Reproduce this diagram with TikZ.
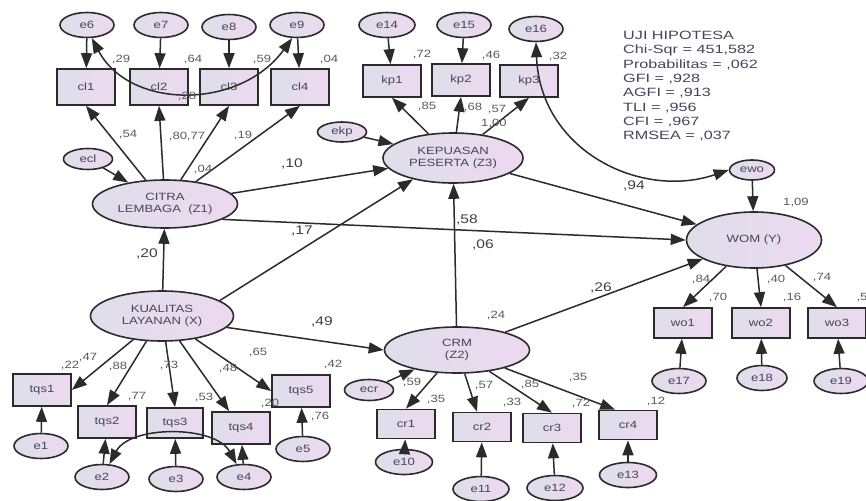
\documentclass[tikz,border=0pt]{standalone}
\usepackage{fontspec}
\setmainfont[FakeStretch=1.25]{Liberation Sans}
\newfontfamily\statfont[FakeStretch=1.35]{Liberation Sans}
\usetikzlibrary{shapes.geometric,arrows.meta}
\definecolor{edgecol}{HTML}{2B2B2B}
\definecolor{shadeL}{HTML}{DEDEEA}
\definecolor{shadeR}{HTML}{EDD9F0}
\definecolor{nodetext}{HTML}{45455A}
\definecolor{lbltext}{HTML}{5A5A5A}
\tikzset{
    every node/.style={font=\fontsize{10.5}{12}\selectfont, text=nodetext},
    latent/.style={draw=edgecol, ellipse, line width=1.6pt, left color=shadeL, right color=shadeR, inner sep=0pt, align=center, minimum width=143pt, minimum height=50pt},
    obs/.style={draw=edgecol, rectangle, line width=1.6pt, left color=shadeL, right color=shadeR, minimum width=58pt, minimum height=32pt},
    err/.style={draw=edgecol, ellipse, line width=1.6pt, left color=shadeL, right color=shadeR, inner sep=0pt, minimum width=54pt, minimum height=25pt},
    dist/.style={err, minimum width=49pt, minimum height=21pt},
    lbl/.style={text=lbltext, inner sep=0pt},
    biglbl/.style={lbl, text=black!75, font=\fontsize{12.5}{14}\selectfont},
    arr/.style={-{Triangle[length=15pt,width=11pt]}, line width=1.5pt, draw=edgecol},
    cov/.style={{Triangle[length=15pt,width=11pt]}-{Triangle[length=15pt,width=11pt]}, line width=1.5pt, draw=edgecol}
}

\begin{document}
\begin{tikzpicture}[x=1pt,y=-1pt]
        \useasboundingbox (0,0) rectangle (866,500);

        % latent variables
        \node[latent, minimum width=145pt, minimum height=48pt] (citra) at (165,204) {CITRA\\LEMBAGA~~(Z1)};
        \node[latent] (kualitas) at (162,316) {KUALITAS\\LAYANAN (X)};
        \node[latent, minimum width=140pt] (kepuasan) at (453,158) {KEPUASAN\\PESERTA (Z3)};
        \node[latent, minimum width=145pt, minimum height=46pt] (crm) at (457,350) {CRM\\(Z2)};
        \node[latent, minimum width=135pt, minimum height=56pt] (wom) at (754,240) {WOM (Y)};

        % indicators
        \node[obs, minimum height=36pt] (cl1) at (86,87) {cl1};
        \node[obs, minimum height=36pt] (cl2) at (159,87) {cl2};
        \node[obs, minimum height=36pt] (cl3) at (229,87) {cl3};
        \node[obs, minimum height=36pt] (cl4) at (300,87) {cl4};
        \node[obs] (kp1) at (392,81) {kp1};
        \node[obs] (kp2) at (461,80) {kp2};
        \node[obs] (kp3) at (529,81) {kp3};
        \node[obs, minimum height=30pt] (wo1) at (683,323) {wo1};
        \node[obs, minimum height=30pt] (wo2) at (761,323) {wo2};
        \node[obs, minimum height=30pt] (wo3) at (837,323) {wo3};
        \node[obs] (tqs1) at (42,390) {tqs1};
        \node[obs] (tqs2) at (107,422) {tqs2};
        \node[obs, minimum width=56pt, minimum height=30pt] (tqs3) at (175,423) {tqs3};
        \node[obs] (tqs4) at (241,428) {tqs4};
        \node[obs] (tqs5) at (301,391) {tqs5};
        \node[obs, minimum height=29pt] (cr1) at (406,424) {cr1};
        \node[obs, minimum height=29pt] (cr2) at (482,427) {cr2};
        \node[obs, minimum height=29pt] (cr3) at (552,428) {cr3};
        \node[obs, minimum height=29pt] (cr4) at (628,425) {cr4};

        % error terms
        \node[err] (e6) at (87,25) {e6};
        \node[err] (e7) at (161,25) {e7};
        \node[err] (e8) at (229,27) {e8};
        \node[err] (e9) at (297,25) {e9};
        \node[err, minimum width=56pt] (e14) at (387,25) {e14};
        \node[err] (e15) at (464,25) {e15};
        \node[err] (e16) at (536,29) {e16};
        \node[err] (e17) at (679,381) {e17};
        \node[err, minimum width=50pt] (e18) at (762,378) {e18};
        \node[err] (e19) at (841,381) {e19};
        \node[err] (e1) at (41,446) {e1};
        \node[err] (e2) at (102,477) {e2};
        \node[err] (e3) at (176,479) {e3};
        \node[err] (e4) at (244,477) {e4};
        \node[err] (e5) at (303,449) {e5};
        \node[err, minimum width=57pt] (e10) at (404,462) {e10};
        \node[err, minimum width=56pt] (e11) at (481,489) {e11};
        \node[err, minimum width=56pt] (e12) at (555,488) {e12};
        \node[err, minimum width=57pt] (e13) at (628,475) {e13};
        \node[dist] (ecl) at (88,159) {ecl};
        \node[dist, minimum height=20pt] (ekp) at (342,132) {ekp};
        \node[dist] (ecr) at (369,390) {ecr};
        \node[dist, minimum width=45pt, minimum height=20pt] (ewo) at (752,170) {ewo};

        % fit summary
        \node[anchor=north west, align=left, inner sep=0pt, text=nodetext, font=\statfont\fontsize{12}{14.3}\selectfont] (uji) at (623,31)
            {UJI HIPOTESA\\Chi-Sqr = 451,582\\Probabilitas = ,062\\GFI = ,928\\AGFI = ,913\\TLI = ,956\\CFI = ,967\\RMSEA = ,037};

        % measurement paths
        \draw[arr] (citra) -- (cl1.south);
        \draw[arr] (citra) -- (cl2.south);
        \draw[arr] (citra) -- (cl3.south);
        \draw[arr] (citra) -- (cl4.south);
        \draw[arr] (kepuasan) -- (kp1.south);
        \draw[arr] (kepuasan) -- (kp2.south);
        \draw[arr] (kepuasan) -- (kp3.south);
        \draw[arr] (wom) -- (wo1.north);
        \draw[arr] (wom) -- (wo2.north);
        \draw[arr] (wom) -- (wo3.north);
        \draw[arr] (kualitas) -- (tqs1.east);
        \draw[arr] (kualitas) -- (tqs2.north);
        \draw[arr] (kualitas) -- (tqs3.north);
        \draw[arr] (kualitas) -- (tqs4);
        \draw[arr] (kualitas) -- (tqs5.west);
        \draw[arr] (crm) -- (cr1.north);
        \draw[arr] (crm) -- (cr2);
        \draw[arr] (crm) -- (cr3.north);
        \draw[arr] (crm) -- (cr4.130);

        % errors into indicators
        \draw[arr] (e6) -- (cl1);
        \draw[arr] (e7) -- (cl2);
        \draw[arr] (e8) -- (cl3);
        \draw[arr] (e9) -- (cl4);
        \draw[arr] (e14) -- (kp1);
        \draw[arr] (e15) -- (kp2);
        \draw[arr] (e17) -- (wo1);
        \draw[arr] (e18) -- (wo2);
        \draw[arr] (e19) -- (wo3);
        \draw[arr] (e1) -- (tqs1);
        \draw[arr] (e2) -- (tqs2);
        \draw[arr] (e3) -- (tqs3);
        \draw[arr] (e4) -- (tqs4);
        \draw[arr] (e5) -- (tqs5);
        \draw[arr] (e10) -- (cr1);
        \draw[arr] (e11) -- (cr2);
        \draw[arr] (e12) -- (cr3);
        \draw[arr] (e13) -- (cr4);
        \draw[arr] (ecl) -- (citra);
        \draw[arr] (ekp) -- (kepuasan);
        \draw[arr] (ecr) -- (crm);
        \draw[arr] (ewo) -- (wom);

        % correlated errors
        \draw[cov] (e6.-70) .. controls (130,110) and (240,110) .. (e9.-110);
        \draw[cov] (e2.60) .. controls (130,425) and (215,425) .. (e4.120);
        \draw[cov] (e16.south) .. controls (540,150) and (640,200) .. (ewo.west);

        % structural paths
        \draw[arr] (kualitas) -- (citra);
        \draw[arr] (citra) -- (kepuasan);
        \draw[arr] (citra.-15) -- (wom.west);
        \draw[arr] (kualitas.15) -- (kepuasan.208);
        \draw[arr] (kualitas.-10) -- (crm.west);
        \draw[arr] (crm) -- (kepuasan);
        \draw[arr] (kepuasan) -- (wom);
        \draw[arr] (crm) -- (wom);

        % estimates
        \node[lbl] (r1) at (121,60) {,29};
        \node[lbl] (r2) at (193,60) {,64};
        \node[lbl] (r3) at (262,60) {,59};
        \node[lbl] (r4) at (187,97) {,28};
        \node[lbl] (r5) at (329,60) {,04};
        \node[lbl] (r6) at (128,135) {,54};
        \node[lbl] (r7) at (178,137) {,80};
        \node[lbl] (r8) at (196,137) {,77};
        \node[lbl] (r9) at (243,136) {,19};
        \node[lbl] (r10) at (203,170) {,04};
        \node[lbl] (r11) at (422,55) {,72};
        \node[lbl] (r12) at (491,56) {,46};
        \node[lbl] (r13) at (558,57) {,32};
        \node[lbl] (r14) at (427,107) {,85};
        \node[lbl] (r15) at (473,108) {,68};
        \node[lbl] (r16) at (497,110) {,57};
        \node[lbl] (r17) at (494,124) {1,00};
        \node[lbl] (r18) at (796,203) {1,09};
        \node[lbl] (r19) at (496,316) {,24};
        \node[lbl] (r20) at (701,280) {,84};
        \node[lbl] (r21) at (718,298) {,70};
        \node[lbl] (r22) at (776,280) {,40};
        \node[lbl] (r23) at (792,298) {,16};
        \node[lbl] (r24) at (822,278) {,74};
        \node[lbl] (r25) at (862,298) {,5};
        \node[lbl] (r26) at (70,366) {,22};
        \node[lbl] (r27) at (88,358) {,47};
        \node[lbl] (r28) at (118,367) {,88};
        \node[lbl] (r29) at (169,366) {,73};
        \node[lbl] (r30) at (228,369) {,48};
        \node[lbl] (r31) at (258,353) {,65};
        \node[lbl] (r32) at (137,397) {,77};
        \node[lbl] (r33) at (204,398) {,53};
        \node[lbl] (r34) at (270,404) {,20};
        \node[lbl] (r35) at (333,365) {,42};
        \node[lbl] (r36) at (320,417) {,76};
        \node[lbl] (r37) at (412,383) {,59};
        \node[lbl] (r38) at (436,400) {,35};
        \node[lbl] (r39) at (484,386) {,57};
        \node[lbl] (r40) at (530,385) {,85};
        \node[lbl] (r41) at (512,403) {,33};
        \node[lbl] (r42) at (578,378) {,35};
        \node[lbl] (r43) at (581,404) {,72};
        \node[lbl] (r44) at (656,402) {,12};
        \node[biglbl] (b1) at (292,164) {,10};
        \node[biglbl] (b2) at (302,231) {,17};
        \node[biglbl] (b3) at (147,254) {,20};
        \node[biglbl] (b4) at (322,322) {,49};
        \node[biglbl] (b5) at (467,220) {,58};
        \node[biglbl] (b6) at (483,245) {,06};
        \node[biglbl] (b7) at (601,288) {,26};
        \node[biglbl] (b8) at (634,186) {,94};
    \end{tikzpicture}
\end{document}
